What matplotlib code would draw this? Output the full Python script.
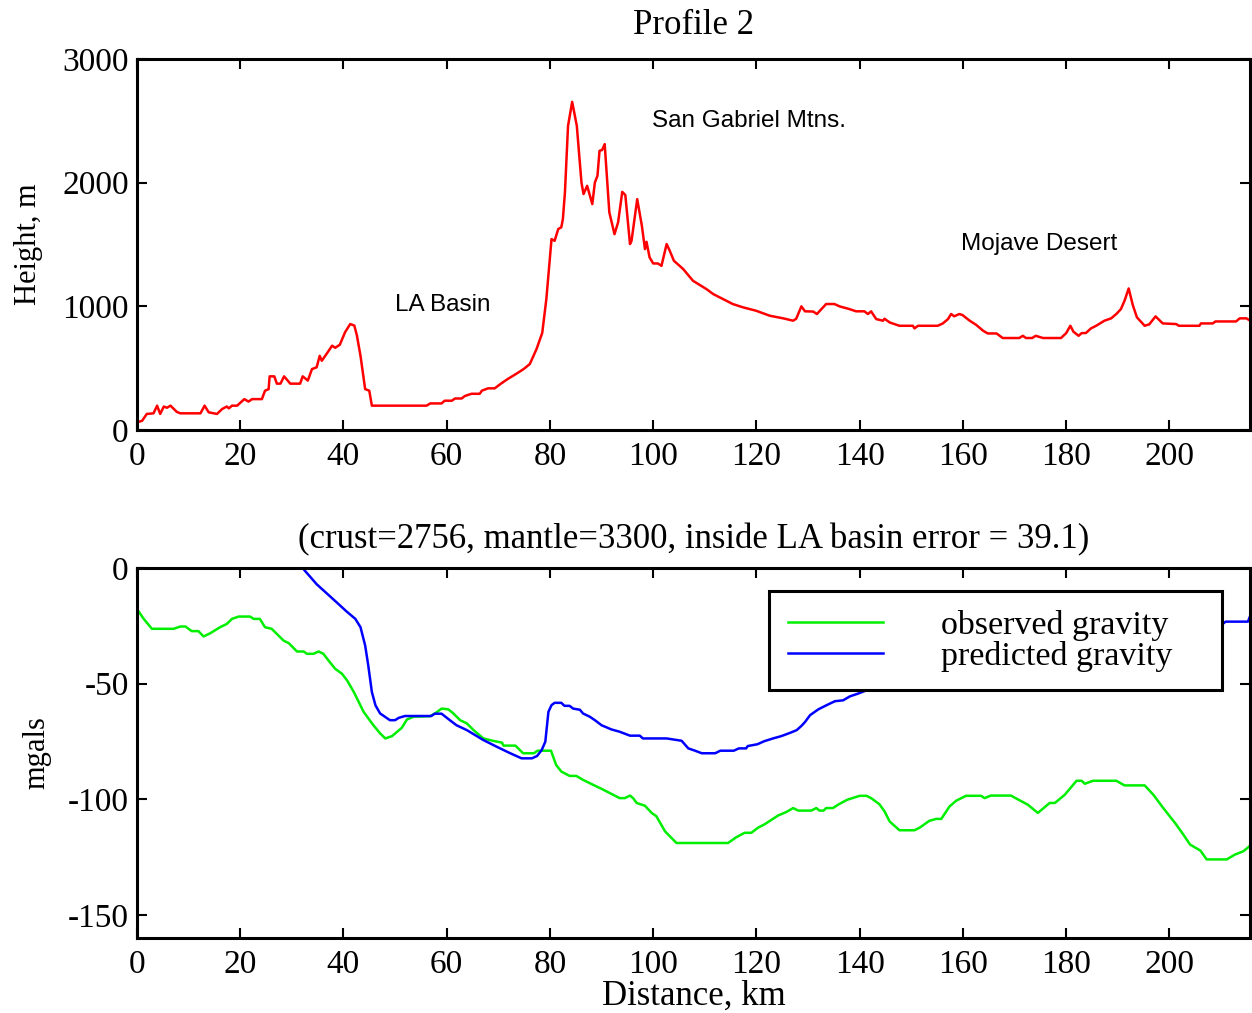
import numpy as np
import matplotlib
matplotlib.use("Agg")
import matplotlib.pyplot as plt

# topography along profile 2
height_km = [0, 1.0, 1.9, 3.2, 3.9, 4.5, 5.2, 5.8, 6.5, 7.7, 8.4, 12.3, 13.1, 13.9, 15.5, 16.5,
             17.4, 17.8, 18.4, 19.4, 20.8, 21.6, 22.3, 24.2, 24.8, 25.5, 25.7, 26.6, 27.1, 27.8,
             28.5, 29.7, 31.6, 32.1, 33.1, 33.9, 34.8, 35.4, 35.8, 36.8, 37.8, 38.4, 39.3, 40.3,
             41.3, 42.1, 42.6, 43.3, 44.2, 45.0, 45.5, 56.1, 56.8, 59.0, 59.6, 61.0, 61.6, 62.9,
             63.5, 64.8, 66.4, 66.8, 68.0, 69.3, 70.5, 71.8, 73.6, 74.9, 76.1, 77.4, 78.5, 79.3,
             80.3, 80.9, 81.6, 82.2, 82.5, 82.9, 83.5, 84.3, 85.2, 86.1, 86.5, 87.2, 88.2, 88.7,
             89.2, 89.6, 90.1, 90.6, 91.5, 92.5, 93.2, 94.0, 94.6, 95.5, 95.8, 96.9, 97.8, 98.4,
             98.7, 99.3, 100.0, 100.9, 101.6, 102.6, 103.2, 104.0, 105.8, 107.7, 110.3, 111.6,
             113.5, 115.4, 117.4, 119.9, 122.6, 125.2, 127.1, 127.7, 128.7, 129.4, 131.0, 131.7,
             133.5, 135.1, 136.1, 138.0, 139.3, 140.9, 141.6, 142.2, 143.2, 144.5, 144.8, 145.8,
             147.7, 150.3, 150.6, 151.3, 155.1, 156.1, 157.1, 157.7, 158.3, 159.3, 159.9, 161.3,
             162.6, 163.9, 164.8, 166.5, 167.7, 170.9, 171.6, 172.2, 173.4, 174.1, 175.5, 179.0,
             180.0, 180.8, 181.4, 182.4, 183.0, 183.8, 184.8, 185.8, 187.4, 188.7, 189.7, 190.6,
             191.3, 192.1, 192.9, 193.7, 195.2, 196.1, 197.3, 198.7, 201.3, 201.8, 205.8, 206.1,
             208.4, 208.9, 212.9, 213.6, 214.9, 215.9]
height_m = [62, 75, 130, 135, 197, 130, 190, 180, 197, 147, 135, 135, 197, 143, 130, 170,
            190, 175, 197, 197, 250, 230, 250, 250, 318, 330, 434, 434, 375, 375,
            434, 375, 375, 434, 400, 493, 507, 600, 560, 620, 682, 665, 690, 790,
            857, 845, 765, 600, 331, 318, 197, 197, 215, 215, 237, 237, 255, 255,
            275, 293, 293, 318, 337, 337, 375, 412, 458, 493, 534, 655, 785, 1059,
            1544, 1530, 1625, 1640, 1706, 1921, 2460, 2654, 2460, 2002, 1908, 1975, 1827, 2002,
            2056, 2258, 2265, 2312, 1760, 1584, 1680, 1926, 1900, 1504, 1530, 1867, 1652, 1463,
            1522, 1396, 1347, 1347, 1328, 1504, 1450, 1369, 1302, 1207, 1140, 1100,
            1059, 1019, 992, 965, 924, 903, 884, 900, 1000, 960, 958, 938,
            1019, 1019, 1000, 978, 960, 960, 938, 960, 897, 884, 900, 870,
            843, 843, 822, 843, 843, 862, 897, 938, 920, 938, 930, 884,
            849, 803, 781, 781, 744, 744, 762, 744, 744, 762, 744, 744,
            784, 843, 795, 762, 784, 784, 822, 843, 884, 903, 938, 978,
            1046, 1145, 1010, 911, 843, 855, 919, 862, 857, 843, 843, 862,
            862, 878, 878, 903, 903, 878]

# observed gravity
obs_km = [0, 1.3, 2.9, 7.1, 8.4, 9.4, 10.6, 11.9, 12.9, 14.2, 16.1, 17.4, 18.4, 19.7, 21.9,
          22.6, 23.8, 24.8, 26.1, 28.4, 29.4, 31.0, 32.3, 32.9, 34.2, 35.2, 36.1, 37.1, 38.4,
          39.7, 40.7, 42.0, 43.9, 45.8, 47.1, 48.1, 49.4, 51.3, 52.3, 53.6, 56.8, 58.1, 59.0,
          60.3, 61.2, 62.6, 63.9, 65.2, 67.1, 69.1, 70.7, 71.0, 73.3, 74.8, 76.9, 77.6, 80.2,
          81.2, 82.2, 83.8, 85.1, 86.4, 88.4, 90.0, 92.3, 93.5, 94.5, 95.5, 96.1, 96.8, 98.4,
          99.7, 100.6, 102.3, 104.5, 114.5, 116.1, 117.7, 119.0, 120.3, 121.6, 124.2, 125.8,
          127.1, 128.1, 130.6, 131.6, 132.2, 133.0, 133.5, 134.8, 136.0, 137.6, 140.0, 141.3,
          142.2, 143.8, 144.8, 145.8, 147.7, 150.6, 151.6, 153.5, 154.8, 155.8, 157.4, 158.7,
          160.6, 163.5, 164.2, 165.4, 169.3, 170.6, 172.6, 174.5, 176.8, 177.8, 179.7, 182.0,
          183.0, 183.6, 185.2, 189.7, 191.3, 195.2, 196.9, 198.8, 201.1, 202.7, 204.0, 206.0,
          207.2, 211.1, 212.7, 214.3, 215.9]
obs_mgal = [-17.7, -22, -26.3, -26.3, -25.3, -25.3, -27.3, -27.3, -29.6, -28.2, -25.6, -24.2, -22, -21, -21,
            -22, -22, -25.6, -26.3, -31.4, -32.5, -36.1, -36.1, -37.1, -37.1, -36.1, -37.1, -40, -43.6,
            -45.7, -48.6, -53.6, -62.2, -68, -71.5, -73.7, -72.7, -69.1, -65.5, -64.3, -64.1, -62.3, -60.8,
            -61.1, -62.7, -65.8, -67.2, -70.1, -73.7, -74.8, -75.5, -76.8, -76.8, -80.1, -80.1, -79, -79,
            -85.2, -88, -89.9, -89.9, -91.6, -93.8, -95.5, -98.1, -99.5, -99.5, -98.4, -99.5, -101.6, -102.8,
            -105.9, -107.3, -113.9, -118.9, -118.9, -116.4, -114.5, -114.5, -112.3, -110.8, -107, -105.5,
            -103.8, -104.9, -104.9, -103.8, -104.9, -104.9, -103.8, -103.8, -102.1, -100.2, -98.5, -98.5,
            -99.5, -102.1, -105.2, -109.6, -113.4, -113.4, -112.3, -109.3, -108.5, -108.5, -103.1, -100.6,
            -98.5, -98.5, -99.5, -98.4, -98.4, -100, -102.4, -105.9, -101.6, -101.6, -98.1, -92,
            -92, -93.3, -92, -92, -94, -94, -98.1, -103.8, -110.3, -115.3, -119.6, -122.2,
            -126, -126, -123.9, -122.5, -119.6]

# predicted gravity (part under the legend is a rough guess)
pred_km = [31.5, 32.3, 34.8, 38.7, 40.6, 42.3, 43.3, 44.2, 44.8, 45.5, 46.2, 47.1, 49.0, 50.0,
           50.7, 51.9, 57.0, 57.7, 59.0, 60.6, 61.9, 63.9, 67.1, 69.7, 72.3, 74.5, 76.5, 77.5,
           78.4, 79.1, 79.7, 80.3, 80.9, 82.2, 82.8, 83.8, 84.5, 85.8, 86.4, 87.7, 88.7, 90.0,
           91.9, 93.5, 95.5, 97.4, 98.0, 102.6, 105.5, 106.8, 108.1, 109.4, 112.0, 113.0, 115.6,
           116.6, 118.0, 118.3, 120.2, 121.5, 123.2, 124.8, 126.5, 127.8, 128.7, 129.4, 130.4,
           132.0, 133.6, 135.2, 136.8, 138.1, 139.7, 141.3, 143.2, 150, 160, 170, 180, 190, 200,
           208, 210.3, 210.9, 215.2, 215.9]
pred_mgal = [1.0, -0.6, -7, -14.9, -18.8, -22, -25.6, -33.5, -42.1, -53.6, -59.4, -62.9, -65.8, -65.8,
             -64.8, -64, -64, -63, -63, -65.8, -68, -70.1, -74.4, -77.3, -80.1, -82.3, -82.3, -81.3,
             -78.7, -75.1, -62.2, -59.3, -58.3, -58.3, -59.6, -59.6, -60.8, -61.3, -62.9, -64.3, -65.8, -68,
             -69.8, -70.8, -72.5, -72.5, -73.7, -73.7, -74.7, -78, -79, -80.1, -80.1, -79, -79,
             -78, -78, -77, -76.2, -74.9, -73.7, -72.7, -71.3, -70.1, -68.3, -66.6, -63.6,
             -61.1, -59.3, -57.6, -57.2, -55.5, -54.3, -52.9, -51.5, -47, -42, -38, -34, -31, -28,
             -25.5, -24.2, -23.2, -23.2, -19.2]

x_ticks = np.arange(0, 201, 20)

plt.rcParams['font.family'] = ['Liberation Serif', 'DejaVu Serif']
plt.rcParams['font.size'] = 24
plt.rcParams['axes.unicode_minus'] = False

fig = plt.figure(figsize=(12.52, 10.13), dpi=100)
ax1 = fig.add_axes([0.1094, 0.5755, 0.889, 0.3662])
ax2 = fig.add_axes([0.1094, 0.0740, 0.889, 0.3653])

for ax in (ax1, ax2):
    ax.set_xlim(0, 215.6)
    ax.set_xticks(x_ticks)
    ax.tick_params(direction='in', top=True, right=True, length=7, width=1.5,
                   labelsize=24, pad=6)
    ax.tick_params(axis='x', pad=8)
    for s in ax.spines.values():
        s.set_linewidth(2.2)

ax1.plot(height_km, height_m, color='#ff0000', lw=1.8)
ax1.set_ylim(0, 3000)
ax1.set_yticks([0, 1000, 2000, 3000])
ax1.set_ylabel('Height, m', fontsize=22, labelpad=14)
ax1.set_title('Profile 2', fontsize=25, pad=18)
sans = ['Liberation Sans', 'DejaVu Sans']
ax1.text(50, 1010, 'LA Basin', family=sans, fontsize=17.5, va='center')
ax1.text(99.7, 2498, 'San Gabriel Mtns.', family=sans, fontsize=17.5, va='center')
ax1.text(159.7, 1504, 'Mojave Desert', family=sans, fontsize=17.5, va='center')

ax2.plot(obs_km, obs_mgal, color='#00ee00', lw=1.8, label='observed gravity')
ax2.plot(pred_km, pred_mgal, color='#0000ff', lw=1.8, label='predicted gravity')
ax2.set_ylim(-160, 0)
ax2.set_yticks([-150, -100, -50, 0])
ax2.set_ylabel('mgals', fontsize=22, labelpad=12)
ax2.set_xlabel('Distance, km', fontsize=25, labelpad=0)
ax2.set_title('(crust=2756, mantle=3300, inside LA basin error = 39.1)', fontsize=25, pad=14)

leg = ax2.legend(loc='upper left', bbox_to_anchor=(0.568, 0.678, 0.407, 0.26), mode='expand',
                 fontsize=24.5, frameon=True, fancybox=False, framealpha=1, edgecolor='black',
                 handlelength=2.8, handletextpad=1.7, borderpad=0.55, labelspacing=0.0,
                 borderaxespad=0)
leg.get_frame().set_linewidth(2.2)
leg.set_zorder(5)

fig.savefig('out.png', dpi=100)
